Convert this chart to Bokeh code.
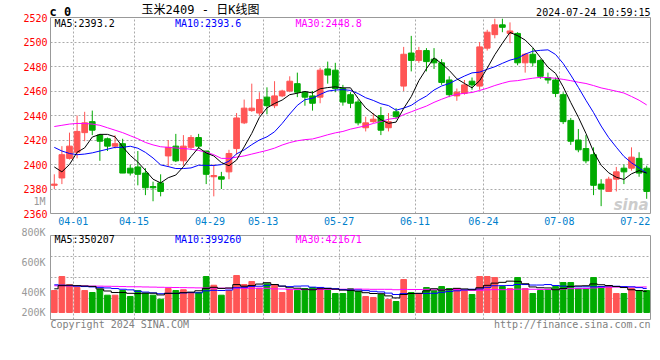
import pandas as pd
from bokeh.plotting import figure
from bokeh.models import Range1d, FixedTicker, ColumnDataSource
from bokeh.layouts import column
from bokeh.embed import file_html
from bokeh.resources import INLINE
from bokeh.core.properties import value

# ---------------- data ----------------
DATES = ["03-28", "03-29",
         "04-01", "04-02", "04-03", "04-08", "04-09", "04-10", "04-11", "04-12", "04-15", "04-16",
         "04-17", "04-18", "04-19", "04-22", "04-23", "04-24", "04-25", "04-26", "04-29", "04-30",
         "05-06", "05-07", "05-08", "05-09", "05-10", "05-13", "05-14", "05-15", "05-16", "05-17",
         "05-20", "05-21", "05-22", "05-23", "05-24", "05-27", "05-28", "05-29", "05-30", "05-31",
         "06-03", "06-04", "06-05", "06-06", "06-07", "06-11", "06-12", "06-13", "06-14", "06-17",
         "06-18", "06-19", "06-20", "06-21", "06-24", "06-25", "06-26", "06-27", "06-28",
         "07-01", "07-02", "07-03", "07-04", "07-05", "07-08", "07-09", "07-10", "07-11", "07-12",
         "07-15", "07-16", "07-17", "07-18", "07-19", "07-22", "07-23", "07-24"]

OPEN = [2383, 2389, 2405, 2410, 2426, 2435, 2424, 2421, 2415, 2417, 2397, 2398, 2393, 2382, 2385,
        2407, 2415, 2403, 2414, 2422, 2411, 2390, 2390, 2394, 2413, 2434, 2444, 2442, 2455, 2448,
        2456, 2460, 2466, 2459, 2456, 2455, 2478, 2477, 2462, 2457, 2451, 2430, 2435, 2440, 2430,
        2443, 2464, 2491, 2485, 2493, 2486, 2483, 2469, 2456, 2458, 2468, 2464, 2495, 2506, 2514,
        2507, 2507, 2483, 2490, 2485, 2471, 2469, 2457, 2436, 2420, 2413, 2408, 2384, 2378, 2388,
        2397, 2397, 2405, 2397]
HIGH = [2392, 2415, 2426, 2440, 2443, 2444, 2425, 2422, 2424, 2421, 2400, 2411, 2397, 2386, 2392,
        2420, 2425, 2424, 2424, 2425, 2411, 2400, 2394, 2412, 2442, 2453, 2466, 2459, 2463, 2468,
        2461, 2472, 2475, 2460, 2460, 2479, 2484, 2483, 2465, 2459, 2453, 2439, 2442, 2447, 2442,
        2446, 2496, 2505, 2496, 2495, 2495, 2486, 2472, 2462, 2469, 2471, 2500, 2510, 2519, 2519,
        2516, 2508, 2491, 2495, 2486, 2475, 2471, 2459, 2438, 2429, 2424, 2414, 2388, 2390, 2398,
        2400, 2414, 2410, 2399]
LOW = [2380, 2384, 2404, 2405, 2419, 2424, 2403, 2411, 2413, 2393, 2391, 2383, 2375, 2370, 2374,
       2398, 2402, 2399, 2412, 2413, 2384, 2374, 2380, 2388, 2408, 2433, 2443, 2440, 2441, 2446,
       2455, 2459, 2455, 2448, 2444, 2450, 2466, 2459, 2448, 2446, 2432, 2427, 2434, 2424, 2427,
       2437, 2460, 2476, 2483, 2476, 2478, 2465, 2455, 2452, 2457, 2461, 2461, 2493, 2503, 2508,
       2499, 2481, 2475, 2480, 2470, 2466, 2455, 2433, 2416, 2410, 2401, 2375, 2366, 2378, 2378,
       2384, 2395, 2390, 2372]
CLOSE = [2384, 2408, 2415, 2427, 2434, 2428, 2419, 2415, 2417, 2393, 2393, 2392, 2381, 2381, 2378,
         2414, 2403, 2415, 2422, 2415, 2392, 2391, 2388, 2409, 2438, 2446, 2446, 2453, 2448, 2456,
         2460, 2468, 2459, 2455, 2450, 2477, 2473, 2462, 2451, 2450, 2434, 2434, 2437, 2428, 2435,
         2439, 2490, 2485, 2493, 2484, 2483, 2467, 2457, 2459, 2465, 2465, 2496, 2508, 2514, 2512,
         2509, 2483, 2490, 2483, 2472, 2469, 2458, 2435, 2419, 2412, 2403, 2383, 2380, 2388, 2394,
         2394, 2406, 2393, 2378]
VOLUME = [366000, 599000, 461000, 416000, 366000, 333000, 388000, 288000, 288000, 366000,
          266000, 366000, 321000, 288000, 221000, 399000, 366000, 378000, 333000, 333000,
          599000, 454000, 288000, 366000, 616000, 466000, 516000, 405000, 478000, 466000,
          333000, 378000, 366000, 399000, 416000, 416000, 399000, 316000, 316000, 399000,
          350000, 266000, 250000, 299000, 217000, 183000, 549000, 333000, 316000, 416000,
          366000, 432000, 399000, 399000, 366000, 299000, 599000, 599000, 582000, 432000,
          399000, 582000, 399000, 316000, 366000, 383000, 432000, 499000, 499000, 399000,
          399000, 582000, 432000, 432000, 316000, 316000, 399000, 366000, 366000]

MA5_HEAD = [2398, 2394, 2400, 2410]
MA10_HEAD = [2414, 2411, 2409, 2408, 2408.5, 2409.5, 2411, 2412.5, 2414]
MA30_HEAD = [2431, 2432, 2433, 2433.5, 2433.5, 2433, 2432, 2430, 2428, 2426, 2423.5, 2421,
             2418, 2416, 2414.5, 2414, 2413.5, 2413, 2412.5, 2411.5, 2410, 2408, 2405, 2405,
             2406, 2407, 2408.5, 2410, 2411.5]
VMA5_HEAD = [394000, 447000, 456000, 447000]
VMA10_HEAD = [461000, 456000, 447000, 439000, 432000, 426000, 418000, 409000, 399000]
VMA30_HEAD = [445000, 445000, 444000, 443000, 442000, 440000, 439000, 437000, 435000, 432000,
              429000, 428000, 425000, 423000, 420000, 418000, 416000, 414000, 412000, 410000,
              409000, 407000, 406000, 405000, 404000, 404000, 403000, 403000, 403000]

PRICE_TICKS = [2360, 2380, 2400, 2420, 2440, 2460, 2480, 2500, 2520]
DATE_LABELS = ["04-01", "04-15", "04-29", "05-13", "05-27", "06-11", "06-24", "07-08", "07-22"]
DATE_GRID = ["04-01", "04-15", "04-29", "05-13", "05-27", "06-11", "06-24", "07-08"]
VOL_TICK_LABELS = ["1M", "800K", "600K", "400K", "200K"]
PRICE_MA_TEXT = ["MA5:2393.2", "MA10:2393.6", "MA30:2448.8"]
VOL_MA_TEXT = ["MA5:350207", "MA10:399260", "MA30:421671"]
SYMBOL = "c 0"
TITLE = "玉米2409 - 日K线图"
STAMP = "2024-07-24 10:59:15"
COPYRIGHT = "Copyright 2024 SINA.COM"
URL = "http://finance.sina.com.cn"

# ---------------- derived ----------------
n = len(DATES)
X = [i + 0.5 for i in range(n)]
UP, DOWN = "#FF5555", "#00AA00"
COLORS = [UP if c >= o else DOWN for o, c in zip(OPEN, CLOSE)]


def moving(values, window, head):
    rolled = pd.Series(values, dtype=float).rolling(window).mean().tolist()
    return list(head) + rolled[len(head):]


MA5 = moving(CLOSE, 5, MA5_HEAD)
MA10 = moving(CLOSE, 10, MA10_HEAD)
MA30 = moving(CLOSE, 30, MA30_HEAD)
VMA5 = moving(VOLUME, 5, VMA5_HEAD)
VMA10 = moving(VOLUME, 10, VMA10_HEAD)
VMA30 = moving(VOLUME, 30, VMA30_HEAD)

src = ColumnDataSource(dict(
    x=X, open=OPEN, high=HIGH, low=LOW, close=CLOSE, vol=VOLUME,
    top=[max(o, c) for o, c in zip(OPEN, CLOSE)],
    bottom=[min(o, c) for o, c in zip(OPEN, CLOSE)],
    color=COLORS, ma5=MA5, ma10=MA10, ma30=MA30, vma5=VMA5, vma10=VMA10, vma30=VMA30))

MONO = "DejaVu Sans Mono"
CJK = "DejaVu Sans Mono, Noto Sans CJK SC"
GRID = "#AAAAAA"
tick_pos = [DATES.index(d) + 1 for d in DATE_LABELS]
grid_pos = [DATES.index(d) + 1 for d in DATE_GRID]

xr = Range1d(0, n)


def base(p):
    p.outline_line_color = "#999999"
    p.outline_line_width = 1
    p.background_fill_color = "white"
    p.border_fill_color = "white"
    p.xgrid.ticker = FixedTicker(ticks=grid_pos)
    p.xgrid.grid_line_color = GRID
    p.xgrid.grid_line_dash = "2 2"
    p.ygrid.grid_line_color = GRID
    p.ygrid.grid_line_dash = "2 2"


def text(p, s, x, y, dx=0, up=0, color="black", size="10px", align="left",
         font=MONO, style="normal"):
    # text glyph on the overlay level so that it may sit outside the frame
    p.text(x=[x], y=[y], text=[s], x_offset=dx, y_offset=-up, text_color=color,
           text_font=value(font), text_font_size=value(size), text_font_style=style,
           text_align=align, text_baseline="middle", level="overlay")


# ---------------- price panel ----------------
pa = figure(frame_width=600, frame_height=196, x_range=xr,
            y_range=Range1d(PRICE_TICKS[0], PRICE_TICKS[-1]),
            output_backend="svg", toolbar_location=None,
            min_border_left=50, min_border_right=8, min_border_top=17, min_border_bottom=0)
base(pa)
pa.ygrid.ticker = FixedTicker(ticks=PRICE_TICKS[1:-1])

pa.yaxis.ticker = FixedTicker(ticks=PRICE_TICKS)
pa.yaxis.major_label_text_color = "#FF0000"
pa.yaxis.major_label_text_font = MONO
pa.yaxis.major_label_text_font_size = "10px"
pa.yaxis.axis_line_color = None
pa.yaxis.major_tick_line_color = None
pa.yaxis.minor_tick_line_color = None
pa.yaxis.major_tick_out = 0
pa.yaxis.major_tick_in = 0
pa.yaxis.major_label_standoff = 3

pa.xaxis.ticker = FixedTicker(ticks=tick_pos)
pa.xaxis.major_label_overrides = {p: lab for p, lab in zip(tick_pos, DATE_LABELS)}
pa.xaxis.major_label_text_color = "#0080CC"
pa.xaxis.major_label_text_font = MONO
pa.xaxis.major_label_text_font_size = "10px"
pa.xaxis.axis_line_color = None
pa.xaxis.major_tick_line_color = None
pa.xaxis.minor_tick_line_color = None
pa.xaxis.major_tick_out = 0
pa.xaxis.major_tick_in = 0
pa.xaxis.major_label_standoff = 3

pa.segment(x0="x", y0="low", x1="x", y1="high", line_color="color", line_width=1, source=src)
pa.vbar(x="x", width=0.75, top="top", bottom="bottom", fill_color="color",
        line_color="color", line_width=1, source=src)
pa.line("x", "ma30", line_color="#FF00FF", line_width=1, source=src)
pa.line("x", "ma10", line_color="#0000FF", line_width=1, source=src)
pa.line("x", "ma5", line_color="#000000", line_width=1, source=src)

top_p, bot_p = PRICE_TICKS[-1], PRICE_TICKS[0]
for k, (s, c) in enumerate(zip(PRICE_MA_TEXT, ["#000000", "#0000FF", "#FF00FF"])):
    text(pa, s, 0, top_p, dx=4 + 120.5 * k, up=-6.3, color=c)
text(pa, SYMBOL, 0, top_p, dx=-1, up=5.5, size="12px", style="bold")
text(pa, TITLE, 0, top_p, dx=150, up=7.5, size="12px", align="center", font=CJK)
text(pa, STAMP, n, top_p, dx=0, up=4.7, align="right")
text(pa, VOL_TICK_LABELS[0], 0, bot_p, dx=-5, up=12, color="#999999", align="right")
text(pa, "sina", n, bot_p, dx=-2, up=9, color="#CCCCCC", size="15px", align="right",
     font="DejaVu Sans", style="bold italic")

# ---------------- volume panel ----------------
VMIN, VMAX = -117000, 1283000
pb = figure(frame_width=600, frame_height=84, x_range=xr, y_range=Range1d(VMIN, VMAX),
            output_backend="svg", toolbar_location=None,
            min_border_left=50, min_border_right=8, min_border_top=8, min_border_bottom=14)
base(pb)
span = VMAX - VMIN
pb.ygrid.ticker = FixedTicker(ticks=[VMIN + span * k / 4 for k in (1, 2, 3)])
pb.xaxis.visible = False
pb.yaxis.visible = False

pb.vbar(x="x", width=0.75, top="vol", bottom=0, fill_color="color", line_color="color",
        line_width=1, source=src)
pb.step("x", "vma30", mode="center", line_color="#FF00FF", line_width=1, source=src)
pb.step("x", "vma10", mode="center", line_color="#0000FF", line_width=1, source=src)
pb.step("x", "vma5", mode="center", line_color="#000000", line_width=1, source=src)

for k, (s, c) in enumerate(zip(VOL_MA_TEXT, ["#000000", "#0000FF", "#FF00FF"])):
    text(pb, s, 0, VMAX, dx=4 + 120.5 * k, up=-4.3, color=c)
for s, up in zip(VOL_TICK_LABELS[1:], [3, -26.7, -56.7, -77]):
    text(pb, s, 0, VMAX, dx=-5, up=up, color="#999999", align="right")
text(pb, COPYRIGHT, 0, VMIN, dx=0, up=-5.3, color="#808080")
text(pb, URL, n, VMIN, dx=0, up=-5.3, color="#808080", align="right")

layout = column(pa, pb)
open("out.html", "w").write(file_html(layout, INLINE))
